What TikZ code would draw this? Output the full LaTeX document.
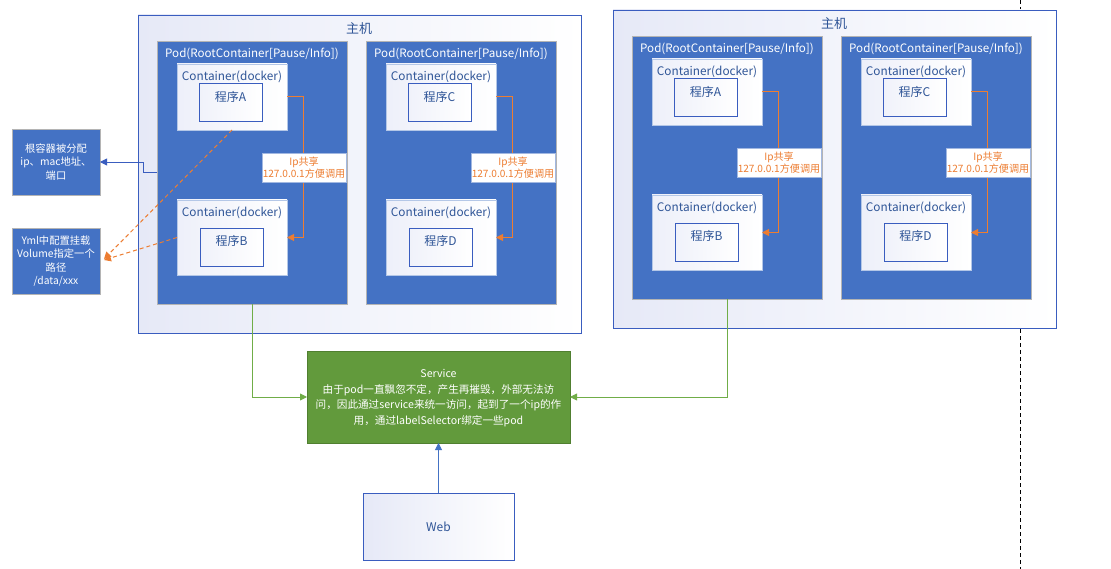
\documentclass[tikz,border=0pt]{standalone}
\usepackage{fontspec}
\setmainfont{Noto Sans CJK SC}
\usetikzlibrary{arrows.meta,calc}
\definecolor{blueF}{HTML}{4472C4}
\definecolor{hostB}{HTML}{3A5DBF}
\definecolor{lav}{HTML}{E6E9F7}
\definecolor{txtB}{HTML}{2F5597}
\definecolor{greenF}{HTML}{629A3C}
\definecolor{greenB}{HTML}{507F30}
\definecolor{greenL}{HTML}{70AD47}
\definecolor{orangeL}{HTML}{ED7D31}
\definecolor{greyB}{HTML}{B4B4B4}
\tikzset{
  nw/.style={anchor=north west, inner sep=0pt, outer sep=0pt},
  hostbox/.style={nw, draw=hostB, line width=0.9pt, left color=lav, right color=white},
  podbox/.style={nw, draw=greyB, line width=0.9pt, fill=blueF},
  contbox/.style={nw, draw=blueF!40, line width=0.6pt, left color=lav!70, right color=white},
  progbox/.style={nw, draw=hostB, line width=0.9pt, left color=lav!60, right color=white},
  lblbox/.style={nw, draw=blueF!50, line width=0.6pt, fill=white},
  sidebox/.style={nw, draw=greyB, line width=0.9pt, fill=blueF},
  hosttitle/.style={font=\fontsize{13}{15}\selectfont, text=txtB, inner sep=0pt},
  podtitle/.style={font=\fontsize{11.6}{13}\selectfont, text=white, inner sep=0pt},
  conttitle/.style={font=\fontsize{11.8}{13}\selectfont, text=txtB, inner sep=0pt},
  progtitle/.style={font=\fontsize{12}{14}\selectfont, text=txtB, inner sep=0pt},
  lbltext/.style={font=\fontsize{10.1}{12}\selectfont, text=orangeL, align=center, inner sep=0pt},
  sidetext/.style={font=\fontsize{10.3}{13.5}\selectfont, text=white, align=center, inner sep=0pt},
  tip/.style={-{Triangle[length=7pt,width=7pt]}},
  orline/.style={draw=orangeL, line width=1pt, tip},
}
\newcommand\mypod[5]{%
  \begin{scope}[shift={(#2,#3)}]
    \node[podbox, minimum width=190pt, minimum height=263pt] (#1) at (0,0) {};
    \node[podtitle] (#1t) at (95,13) {Pod(RootContainer[Pause/Info])};
    \node[contbox, minimum width=110pt, minimum height=66pt] (#1ca) at (20,23) {};
    \node[conttitle] (#1cat) at (75,36) {Container(docker)};
    \node[progbox, minimum width=63pt, minimum height=38pt] (#1pa) at (42,42) {};
    \node[progtitle] (#1pat) at (73.5,56) {程序#4};
    \node[contbox, minimum width=110pt, minimum height=75pt] (#1cb) at (20,159) {};
    \node[conttitle] (#1cbt) at (75,172) {Container(docker)};
    \node[progbox, minimum width=63pt, minimum height=38pt] (#1pb) at (43,187) {};
    \node[progtitle] (#1pbt) at (74.5,200) {程序#5};
    \draw[orline] (#1ca.east) -- ++(16,0) |- (#1cb.east);
    \node[lblbox, minimum width=84pt, minimum height=29pt] (#1l) at (105,112) {};
    \node[lbltext] (#1lt) at (147,126.5) {Ip共享\\127.0.0.1方便调用};
  \end{scope}}
\begin{document}
\begin{tikzpicture}[x=1pt,y=-1pt]
\useasboundingbox (0,0) rectangle (1111,569);
\fill[white] (0,0) rectangle (1111,569);
\draw[black, line width=0.9pt, dash pattern=on 4pt off 3pt] (1020,0) -- (1020,569);
% hosts
\node[hostbox, minimum width=443pt, minimum height=318pt] (h1) at (138,15) {};
\node[hosttitle] (h1t) at (359,29) {主机};
\node[hostbox, minimum width=443pt, minimum height=318pt] (h2) at (613,10) {};
\node[hosttitle] (h2t) at (834,24) {主机};
\mypod{p1}{157}{41}{A}{B}
\mypod{p2}{366}{41}{C}{D}
\mypod{p3}{632}{36}{A}{B}
\mypod{p4}{841}{36}{C}{D}
% side boxes
\node[sidebox, minimum width=88pt, minimum height=66pt] (root) at (12,129) {};
\node[sidetext] (roott) at (56,162) {根容器被分配\\ip、mac地址、\\端口};
\node[sidebox, minimum width=88pt, minimum height=66pt] (vol) at (12,228) {};
\node[sidetext] (volt) at (56,261) {Yml中配置挂载\\Volume指定一个\\路径\\/data/xxx};
\draw[draw=hostB, line width=0.9pt, tip] (p1.west) -- ++(-14,0) |- (root.east);
\draw[orline, dash pattern=on 4pt off 3pt] (p1ca.south) -- ($(vol.east)+(4,-2)$);
\draw[orline, dash pattern=on 4pt off 3pt] (p1cb.west) -- ($(vol.east)+(4,-1)$);
% service
\node[nw, draw=greenB, line width=0.9pt, fill=greenF, minimum width=263pt, minimum height=92pt] (svc) at (307,351) {};
\node[font=\fontsize{10.6}{15.5}\selectfont, text=white, align=center, inner sep=0pt] (svct) at (438.5,398) {Service\\由于pod一直飘忽不定，产生再摧毁，外部无法访\\问，因此通过service来统一访问，起到了一个ip的作\\用，通过labelSelector绑定一些pod};
\draw[draw=greenL, line width=0.9pt, tip] (p1.south) |- (svc.west);
\draw[draw=greenL, line width=0.9pt, tip] (p3.south) |- (svc.east);
% web
\node[nw, draw=hostB, line width=0.9pt, left color=lav, right color=white, minimum width=151pt, minimum height=67pt] (web) at (363,493) {};
\node[font=\fontsize{12}{14}\selectfont, text=txtB, inner sep=0pt] (webt) at (web.center) {Web};
\draw[draw=blueF, line width=0.9pt, tip] (web.north) -- (svc.south);
\end{tikzpicture}
\end{document}
